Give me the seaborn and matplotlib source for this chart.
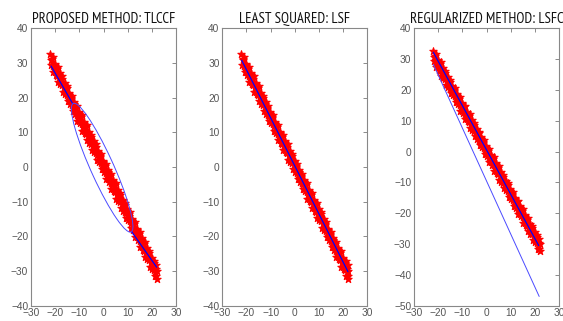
import numpy as np
import pandas as pd
import matplotlib
matplotlib.use("Agg")
import matplotlib.pyplot as plt
from matplotlib.patches import Ellipse
import seaborn as sns

# red sample points (five strips across the band)
x_upper = [-22.1, -21.0, -20.1, -19.0, -18.1, -17.0, -16.1, -15.0, -14.1, -13.0, -12.1, -11.0,
           -10.1, -9.0, -8.1, -7.0, -6.1, -5.0, -4.1, -3.0, -2.1, -1.0, -0.1, 1.0, 1.9, 3.0,
           3.9, 5.0, 5.9, 7.0, 7.9, 9.0, 9.9, 11.0, 11.9, 13.0, 13.9, 15.0, 15.9, 17.0, 17.9,
           19.0, 19.9, 21.0, 21.9]
y_upper = [32.6, 31.6, 29.8, 28.9, 27.0, 26.1, 24.2, 23.3, 21.4, 20.5, 18.6, 17.7, 15.8, 14.9,
           13.0, 12.1, 10.2, 9.3, 7.4, 6.5, 4.6, 3.7, 1.8, 0.9, -1.0, -1.9, -3.8, -4.7, -6.6,
           -7.5, -9.4, -10.3, -12.2, -13.1, -15.0, -15.9, -17.8, -18.7, -20.6, -21.5, -23.4,
           -24.3, -26.2, -27.1, -28.3]
x_upmid = [-21.3, -20.3, -19.3, -18.3, -17.3, -16.3, -15.3, -14.3, -13.3, -12.3, -11.3, -10.3,
           -9.3, -8.3, -7.3, -6.3, -5.3, -4.3, -3.3, -2.3, -1.3, -0.3, 0.7, 1.7, 2.7, 3.7, 4.7,
           5.7, 6.7, 7.7, 8.7, 9.7, 10.7, 11.7, 12.7, 13.7, 14.7, 15.7, 16.7, 17.7, 18.7, 19.7,
           20.7, 21.7]
y_upmid = [31.1, 29.3, 28.3, 26.5, 25.5, 23.7, 22.7, 20.9, 19.9, 18.1, 17.1, 15.3, 14.3, 12.5,
           11.5, 9.7, 8.7, 6.9, 5.9, 4.1, 3.1, 1.3, 0.3, -1.5, -2.5, -4.3, -5.3, -7.1, -8.1,
           -9.9, -10.9, -12.7, -13.7, -15.5, -16.5, -18.3, -19.3, -21.1, -22.1, -23.9, -24.9,
           -26.7, -27.7, -29.5]
x_mid = [-21.6, -20.5, -19.6, -18.5, -17.6, -16.5, -15.6, -14.5, -13.6, -12.5, -11.6, -10.5,
         -9.6, -8.5, -7.6, -6.5, -5.6, -4.5, -3.6, -2.5, -1.6, -0.5, 0.4, 1.5, 2.4, 3.5, 4.4,
         5.5, 6.4, 7.5, 8.4, 9.5, 10.4, 11.5, 12.4, 13.5, 14.4, 15.5, 16.4, 17.5, 18.4, 19.5,
         20.4, 21.5, 22.0]
y_mid = [30.8, 28.6, 28.0, 25.8, 25.2, 23.0, 22.4, 20.2, 19.6, 17.4, 16.8, 14.6, 14.0, 11.8,
         11.2, 9.0, 8.4, 6.2, 5.6, 3.4, 2.8, 0.6, 0.0, -2.2, -2.8, -5.0, -5.6, -7.8, -8.4,
         -10.6, -11.2, -13.4, -14.0, -16.2, -16.8, -19.0, -19.6, -21.8, -22.4, -24.6, -25.2,
         -27.4, -28.0, -30.2, -30.0]
x_lowmid = [-21.1, -20.1, -19.1, -18.1, -17.1, -16.1, -15.1, -14.1, -13.1, -12.1, -11.1, -10.1,
            -9.1, -8.1, -7.1, -6.1, -5.1, -4.1, -3.1, -2.1, -1.1, -0.1, 0.9, 1.9, 2.9, 3.9, 4.9,
            5.9, 6.9, 7.9, 8.9, 9.9, 10.9, 11.9, 12.9, 13.9, 14.9, 15.9, 16.9, 17.9, 18.9, 19.9,
            20.9, 21.9]
y_lowmid = [29.1, 27.3, 26.3, 24.5, 23.5, 21.7, 20.7, 18.9, 17.9, 16.1, 15.1, 13.3, 12.3, 10.5,
            9.5, 7.7, 6.7, 4.9, 3.9, 2.1, 1.1, -0.7, -1.7, -3.5, -4.5, -6.3, -7.3, -9.1, -10.1,
            -11.9, -12.9, -14.7, -15.7, -17.5, -18.5, -20.3, -21.3, -23.1, -24.1, -25.9, -26.9,
            -28.7, -29.7, -31.5]
x_lower = [-21.8, -20.8, -19.8, -18.8, -17.8, -16.8, -15.8, -14.8, -13.8, -12.8, -11.8, -10.8,
           -9.8, -8.8, -7.8, -6.8, -5.8, -4.8, -3.8, -2.8, -1.8, -0.8, 0.2, 1.2, 2.2, 3.2, 4.2,
           5.2, 6.2, 7.2, 8.2, 9.2, 10.2, 11.2, 12.2, 13.2, 14.2, 15.2, 16.2, 17.2, 18.2, 19.2,
           20.2, 21.2, 22.1]
y_lower = [29.3, 27.3, 26.6, 24.5, 23.8, 21.7, 21.0, 18.9, 18.2, 16.1, 15.4, 13.3, 12.6, 10.5,
           9.8, 7.7, 7.0, 4.9, 4.2, 2.1, 1.4, -0.7, -1.4, -3.5, -4.2, -6.3, -7.0, -9.1, -9.8,
           -11.9, -12.6, -14.7, -15.4, -17.5, -18.2, -20.3, -21.0, -23.1, -23.8, -25.9, -26.6,
           -28.7, -29.4, -31.5, -32.4]

# TLCCF fit: line pieces + ellipse (center, full width/height, angle)
tlccf_seg1_x = [-21.7, -12.7]
tlccf_seg1_y = [29.1, 18.2]
tlccf_seg2_x = [11.7, 22.0]
tlccf_seg2_y = [-18.7, -28.9]
ell_center = (-0.55, -0.2)
ell_width = 44.2
ell_height = 8.8
ell_angle = -56.5

# LSF fit
lsf_x = [-22.0, 22.0]
lsf_y = [30.8, -30.2]

# LSFC fit (two lines)
lsfc_a_x = [-22.0, 21.6]
lsfc_a_y = [32.2, -30.5]
lsfc_b_x = [-22.0, 21.8]
lsfc_b_y = [28.3, -47.0]

titles = ["PROPOSED METHOD: TLCCF", "LEAST SQUARED: LSF", "REGULARIZED METHOD: LSFC"]

pts = pd.DataFrame({"x": x_upper + x_upmid + x_mid + x_lowmid + x_lower,
                    "y": y_upper + y_upmid + y_mid + y_lowmid + y_lower})

sns.set_style("white")
plt.rcParams["font.family"] = ["Liberation Sans", "DejaVu Sans"]
title_fonts = ["Liberation Sans Narrow", "Arial Narrow", "PT Sans Narrow",
               "Archivo Narrow", "Roboto Condensed", "DejaVu Sans"]

fig = plt.figure(figsize=(5.63, 3.21), dpi=100)
lefts = [31 / 563, 222.3 / 563, 414 / 563]
axes = [fig.add_axes([l, 0.0477, 145 / 563, 0.8642]) for l in lefts]

for ax, title in zip(axes, titles):
    sns.scatterplot(data=pts, x="x", y="y", ax=ax, color="red", marker="*",
                    s=30, edgecolor="red", linewidth=0.8, zorder=2)
    ax.set_xlim(-30, 30)
    ax.set_xticks([-30, -20, -10, 0, 10, 20, 30])
    ax.set_xlabel("")
    ax.set_ylabel("")
    ax.set_title(title, family=title_fonts, fontsize=10.6, pad=4, color="#111111")
    ax.tick_params(direction="in", length=3, width=0.6, colors="#777777",
                   labelcolor="#555555", labelsize=7.3, top=True, right=True,
                   pad=2)
    for sp in ax.spines.values():
        sp.set_color("#888888")
        sp.set_linewidth(0.8)

ax1, ax2, ax3 = axes
ax1.set_ylim(-40, 40)
ax2.set_ylim(-40, 40)
ax3.set_ylim(-50, 40)
for ax in axes:
    lo = int(ax.get_ylim()[0])
    ax.set_yticks(list(range(lo, 41, 10)))

ax1.plot(tlccf_seg1_x, tlccf_seg1_y, color="#0000ff", lw=0.9, zorder=3)
ax1.plot(tlccf_seg2_x, tlccf_seg2_y, color="#0000ff", lw=0.9, zorder=3)
ax1.add_patch(Ellipse(ell_center, ell_width, ell_height, angle=ell_angle,
                      fill=False, edgecolor="#4a4aff", lw=0.7, zorder=3))

ax2.plot(lsf_x, lsf_y, color="#0000ff", lw=0.9, zorder=3)

ax3.plot(lsfc_a_x, lsfc_a_y, color="#0000ff", lw=0.9, zorder=3)
ax3.plot(lsfc_b_x, lsfc_b_y, color="#4a4aff", lw=0.7, zorder=3)

fig.savefig("out.png", dpi=100)
